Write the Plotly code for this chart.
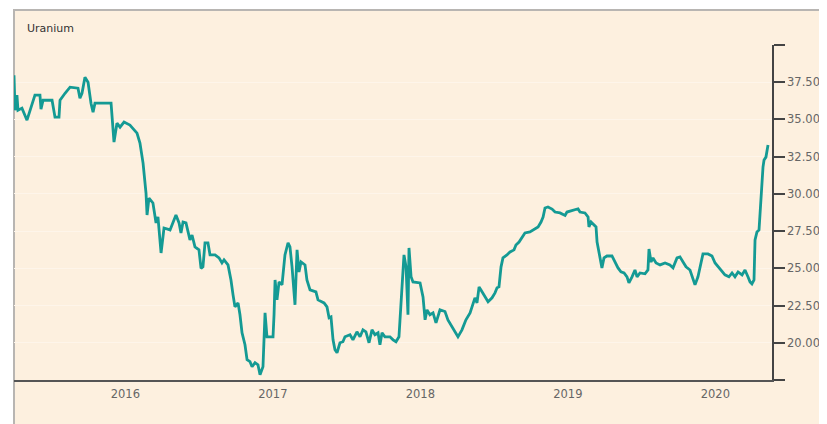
import plotly.graph_objects as go

# Uranium spot price, time as decimal year
time_years = [
    2015.245, 2015.252, 2015.265, 2015.272, 2015.299, 2015.333, 2015.387, 2015.421, 2015.428, 2015.442,
    2015.503, 2015.509, 2015.523, 2015.550, 2015.557, 2015.591, 2015.625, 2015.679, 2015.692, 2015.706,
    2015.726, 2015.747, 2015.767, 2015.781, 2015.794, 2015.903, 2015.923, 2015.943, 2015.964, 2015.991,
    2016.031, 2016.079, 2016.099, 2016.120, 2016.140, 2016.147, 2016.160, 2016.187, 2016.208, 2016.221,
    2016.242, 2016.262, 2016.303, 2016.343, 2016.364, 2016.377, 2016.391, 2016.411, 2016.438, 2016.452,
    2016.472, 2016.499, 2016.513, 2016.526, 2016.540, 2016.560, 2016.574, 2016.608, 2016.635, 2016.655,
    2016.669, 2016.696, 2016.716, 2016.730, 2016.743, 2016.764, 2016.777, 2016.791, 2016.811, 2016.825,
    2016.845, 2016.859, 2016.879, 2016.899, 2016.913, 2016.933, 2016.947, 2016.960, 2017.001, 2017.008,
    2017.015, 2017.028, 2017.042, 2017.062, 2017.082, 2017.103, 2017.116, 2017.130, 2017.150, 2017.164,
    2017.177, 2017.191, 2017.218, 2017.231, 2017.252, 2017.292, 2017.306, 2017.347, 2017.367, 2017.381,
    2017.394, 2017.408, 2017.421, 2017.435, 2017.455, 2017.475, 2017.489, 2017.523, 2017.543, 2017.570,
    2017.591, 2017.611, 2017.631, 2017.652, 2017.672, 2017.692, 2017.713, 2017.726, 2017.740, 2017.760,
    2017.794, 2017.815, 2017.835, 2017.855, 2017.869, 2017.889, 2017.903, 2017.916, 2017.923, 2017.937,
    2017.950, 2017.998, 2018.018, 2018.032, 2018.045, 2018.065, 2018.086, 2018.106, 2018.133, 2018.167,
    2018.187, 2018.214, 2018.235, 2018.255, 2018.282, 2018.309, 2018.337, 2018.357, 2018.370, 2018.384,
    2018.398, 2018.411, 2018.438, 2018.459, 2018.486, 2018.506, 2018.520, 2018.533, 2018.547, 2018.560,
    2018.587, 2018.608, 2018.635, 2018.648, 2018.669, 2018.689, 2018.709, 2018.743, 2018.764, 2018.798,
    2018.818, 2018.832, 2018.845, 2018.865, 2018.893, 2018.913, 2018.947, 2018.981, 2018.994, 2019.015,
    2019.035, 2019.055, 2019.069, 2019.082, 2019.116, 2019.137, 2019.143, 2019.157, 2019.177, 2019.191,
    2019.198, 2019.218, 2019.231, 2019.245, 2019.265, 2019.299, 2019.320, 2019.340, 2019.360, 2019.381,
    2019.401, 2019.414, 2019.435, 2019.455, 2019.469, 2019.489, 2019.523, 2019.543, 2019.550, 2019.564,
    2019.577, 2019.598, 2019.625, 2019.659, 2019.692, 2019.713, 2019.740, 2019.760, 2019.781, 2019.801,
    2019.828, 2019.848, 2019.862, 2019.882, 2019.903, 2019.916, 2019.950, 2019.977, 2019.998, 2020.018,
    2020.045, 2020.065, 2020.092, 2020.113, 2020.133, 2020.154, 2020.181, 2020.201, 2020.221, 2020.235,
    2020.248, 2020.262, 2020.269, 2020.282, 2020.296, 2020.309, 2020.323, 2020.330, 2020.343, 2020.357,
]

price = [
    37.97, 35.62, 36.63, 35.62, 35.76, 34.95, 36.63, 36.63, 35.69, 36.29,
    36.29, 35.96, 35.15, 35.15, 36.29, 36.76, 37.17, 37.10, 36.43, 36.76,
    37.84, 37.50, 36.09, 35.49, 36.09, 36.09, 33.48, 34.75, 34.48, 34.82,
    34.62, 34.08, 33.41, 32.07, 30.06, 28.58, 29.72, 29.39, 28.05, 28.45,
    26.03, 27.71, 27.58, 28.58, 28.05, 27.38, 28.11, 28.05, 26.91, 27.24,
    26.44, 26.24, 25.00, 25.10, 26.71, 26.71, 25.90, 25.90, 25.70, 25.36,
    25.57, 25.23, 24.22, 23.22, 22.41, 22.68, 21.88, 20.67, 19.87, 18.86,
    18.73, 18.39, 18.66, 18.52, 17.85, 18.39, 22.01, 20.40, 20.40, 21.88,
    24.22, 22.88, 24.09, 23.89, 25.90, 26.71, 26.44, 25.10, 22.55, 26.24,
    24.76, 25.43, 25.23, 24.22, 23.55, 23.42, 22.88, 22.68, 22.41, 21.68,
    21.74, 20.20, 19.53, 19.33, 20.00, 20.07, 20.40, 20.54, 20.20, 20.74,
    20.40, 20.87, 20.74, 20.00, 20.87, 20.54, 20.67, 19.87, 20.67, 20.40,
    20.40, 20.20, 20.07, 20.40, 22.88, 25.90, 25.10, 21.88, 26.37, 24.43,
    24.09, 24.02, 23.08, 21.54, 22.21, 21.88, 22.01, 21.34, 22.21, 22.10,
    21.54, 21.07, 20.74, 20.40, 20.87, 21.54, 22.01, 22.55, 23.02, 22.68,
    23.75, 23.55, 23.08, 22.75, 23.02, 23.35, 23.69, 23.75, 25.10, 25.70,
    25.90, 26.10, 26.24, 26.57, 26.77, 27.11, 27.38, 27.44, 27.58, 27.78,
    28.11, 28.45, 29.05, 29.12, 28.98, 28.78, 28.72, 28.55, 28.78, 28.85,
    28.92, 28.98, 29.00, 28.78, 28.72, 28.45, 27.78, 28.11, 27.91, 27.78,
    26.77, 25.77, 25.03, 25.70, 25.83, 25.83, 25.36, 25.03, 24.76, 24.69,
    24.43, 24.02, 24.43, 24.89, 24.43, 24.69, 24.63, 24.89, 26.30, 25.43,
    25.70, 25.36, 25.23, 25.36, 25.23, 25.03, 25.70, 25.77, 25.43, 25.10,
    24.89, 24.22, 23.89, 24.43, 25.36, 25.97, 25.97, 25.83, 25.36, 25.10,
    24.76, 24.56, 24.43, 24.69, 24.43, 24.76, 24.56, 24.89, 24.43, 24.09,
    23.96, 24.22, 26.91, 27.44, 27.58, 29.79, 31.80, 32.27, 32.47, 33.28,
]

year_ticks = [2016, 2017, 2018, 2019, 2020]
year_labels = ["2016", "2017", "2018", "2019", "2020"]
price_ticks = [17.5, 20, 22.5, 25, 27.5, 30, 32.5, 35, 37.5, 40]
price_labels = ["", "20.000", "22.500", "25.000", "27.500", "30.000", "32.500", "35.000", "37.500", ""]

# page body has an 8px margin, so figure pixels = screen pixels - 8
W, H = 827, 424
ML, MR, MT, MB = 6, 63, 37, 52
PW = W - ML - MR
PH = H - MT - MB

def px_x(px):
    return (px - ML) / PW

def px_y(py):
    return (H - MB - py) / PH

FONT = "DejaVu Sans, Verdana, sans-serif"

fig = go.Figure()
fig.add_trace(go.Scatter(
    x=time_years, y=price, mode="lines",
    line=dict(color="#149A94", width=2.8),
    hoverinfo="skip", showlegend=False,
))

bg = "#FDF0DF"
fig.add_shape(
    type="rect", xref="paper", yref="paper", layer="below",
    x0=px_x(6), x1=px_x(860), y0=px_y(460), y1=px_y(2),
    fillcolor=bg, line=dict(color="#B8B5B2", width=2),
)

fig.add_annotation(
    text="Uranium", xref="paper", yref="paper",
    x=px_x(17), y=px_y(21), xanchor="left", yanchor="middle",
    showarrow=False, font=dict(family=FONT, size=11, color="#333333"),
)

fig.update_layout(
    width=W, height=H,
    margin=dict(l=ML, r=MR, t=MT, b=MB, pad=0),
    paper_bgcolor="white",
    plot_bgcolor="rgba(0,0,0,0)",
    font=dict(family=FONT, size=11, color="#666666"),
    xaxis=dict(
        range=[2015.245, 2020.384], tickvals=year_ticks, ticktext=year_labels,
        showgrid=False, zeroline=False, showline=True, linecolor="#555555", linewidth=1.5,
        ticks="outside", ticklen=2, tickcolor="rgba(0,0,0,0)",
        tickfont=dict(family=FONT, size=11.5, color="#666666"), fixedrange=True,
    ),
    yaxis=dict(
        side="right", range=[17.5, 40], tickvals=price_ticks, ticktext=price_labels,
        showgrid=True, gridcolor="#FEF5EA", gridwidth=1, zeroline=False,
        showline=True, linecolor="#444444", linewidth=1.5,
        ticks="outside", ticklen=11, tickcolor="#444444", tickwidth=1.5,
        tickfont=dict(family=FONT, size=11.5, color="#666666"), fixedrange=True,
    ),
)

fig.write_html("out.html")
